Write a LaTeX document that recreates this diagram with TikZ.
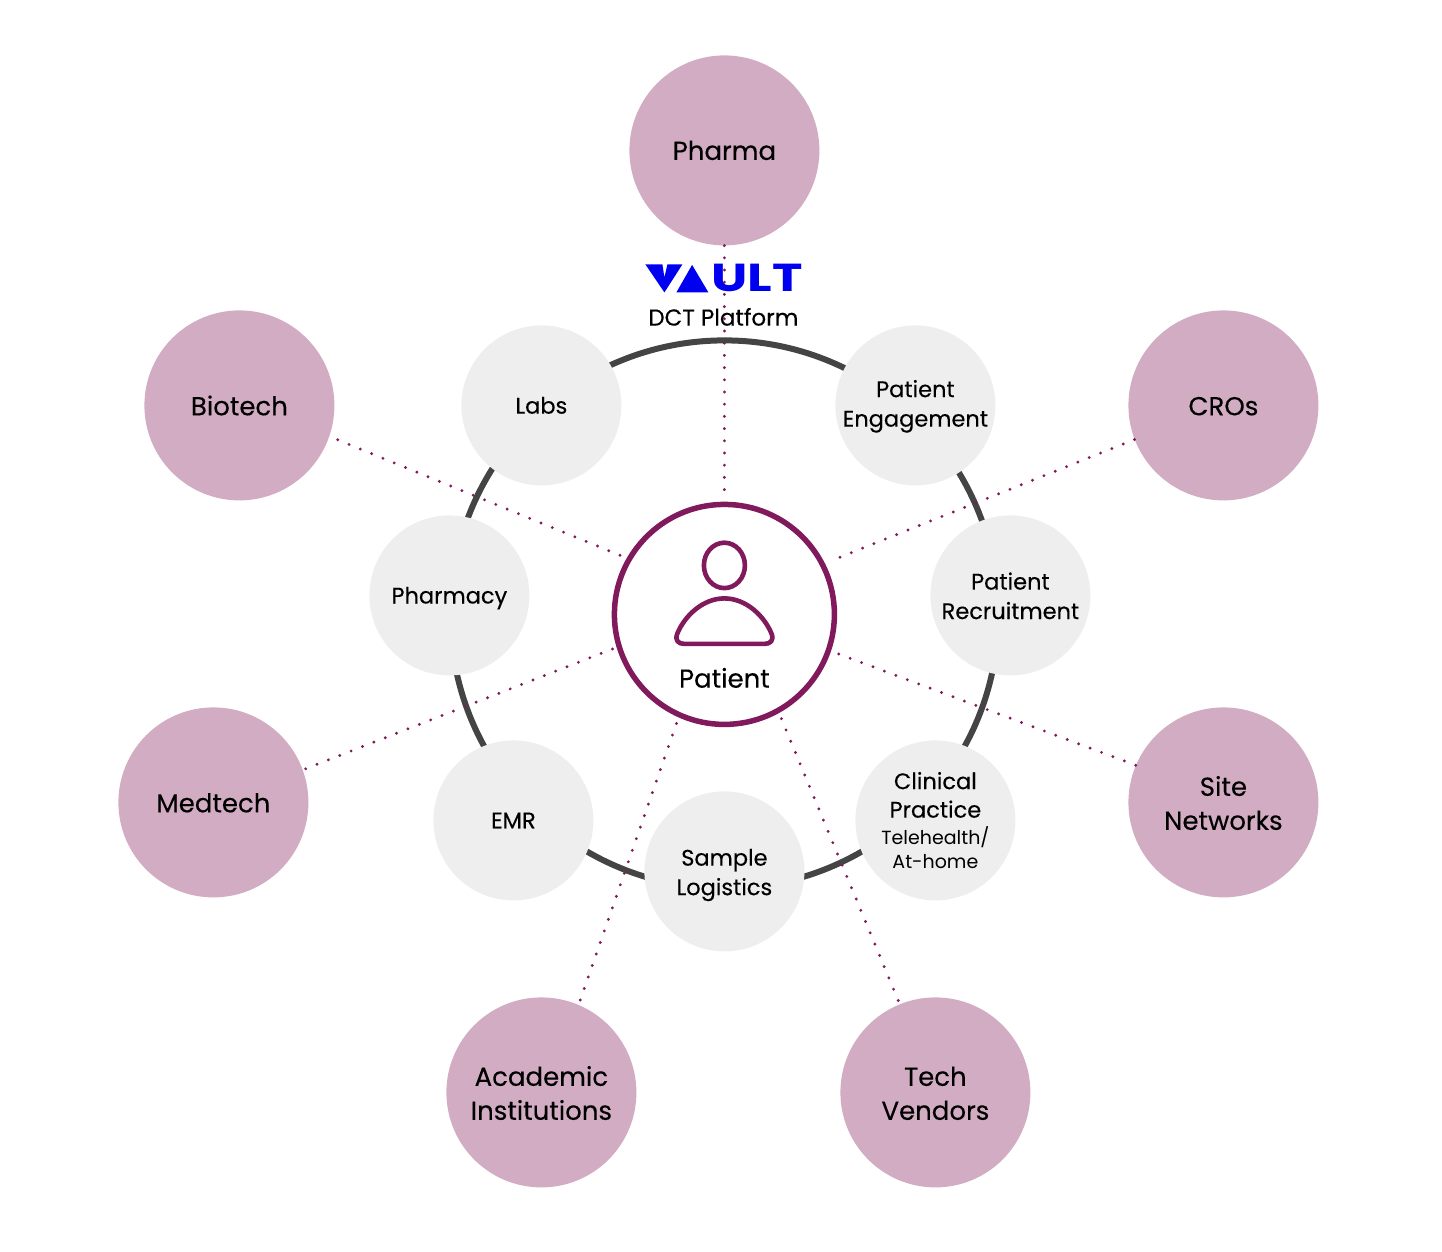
\documentclass[tikz,border=0pt]{standalone}
\usepackage{fontspec}
\usepackage{xcolor}
\setmainfont{Poppins}[FakeBold=0.25]
\newfontfamily\plainfont{Poppins}
\newcommand{\dn}[1]{\rule{0pt}{#1pt}}
\definecolor{plum}{HTML}{801A5C}
\definecolor{mauve}{HTML}{D1ACC2}
\definecolor{pale}{HTML}{EEEEEE}
\definecolor{ringgray}{HTML}{444444}
\definecolor{vaultblue}{HTML}{0000F0}
\begin{document}
\begin{tikzpicture}[x=1pt,y=-1pt,
    outer/.style={circle,fill=mauve,minimum size=190pt,inner sep=0pt,align=center,font=\fontsize{26}{34}\selectfont},
    inner/.style={circle,fill=pale,minimum size=160pt,inner sep=0pt,align=center,font=\fontsize{22.5}{29.5}\selectfont},
    dotline/.style={plum,line width=3.2pt,line cap=round,dash pattern=on 0pt off 12.2pt}]
  \useasboundingbox (-0.4,-0.4) rectangle (1441.6,1251.6);
  \node[circle,draw=ringgray,line width=6pt,minimum size=548pt,inner sep=0pt] (ring) at (724,614) {};
  % outer ring of partners
  \foreach \nm/\xx/\yy/\txt in {pharma/724/150/Pharma, biotech/239/405/\dn{20}Biotech, cros/1223/405/\dn{20}CROs,
      medtech/213/802/\dn{20}Medtech, sites/1223/802/{\dn{21}Site\\Networks}, academic/541/1092/{\dn{21}Academic\\Institutions},
      vendors/935/1092/{\dn{21}Tech\\Vendors}}
    \node[outer] (\nm) at (\xx,\yy) {\txt};
  % services on the platform
  \foreach \nm/\xx/\yy/\txt in {labs/541/405/Labs, engage/915/405/{\dn{19}Patient\\Engagement}, pharmacy/449/595/\dn{22}Pharmacy,
      recruit/1010/595/{\dn{18}Patient\\Recruitment}, emr/513/820/EMR, logistics/724/871/{\dn{24}Sample\\Logistics}}
    \node[inner] (\nm) at (\xx,\yy) {\txt};
  \node[inner] (clinical) at (935,820) {\dn{17}Clinical\\[-1pt]Practice\\[-3pt]{\plainfont\fontsize{19}{24}\selectfont Telehealth/}\\[-5pt]{\plainfont\fontsize{19}{24}\selectfont At-home}};
  \node[circle,draw=plum,fill=white,line width=5.5pt,minimum size=220pt,inner sep=0pt] (patient) at (724,614) {};
  \node[font=\fontsize{26}{30}\selectfont,inner sep=0pt] (patientlabel) at (724,677.5) {Patient};
  \draw[plum,line width=4.6pt] (724,565) ellipse (20.5 and 22.7);
  \draw[plum,line width=4.6pt,line join=round] (724,598) .. controls (702,598) and (684,616) .. (677,633)
    .. controls (674,640) and (678,643.5) .. (684,643.5) -- (764,643.5)
    .. controls (770,643.5) and (774,640) .. (771,633) .. controls (764,616) and (746,598) .. (724,598) -- cycle;
  % logo
  \fill[vaultblue] (645,264) -- (662,264) -- (664,277) -- (667,264) -- (682,264) -- (664,292) -- cycle;
  \fill[vaultblue] (676,292) -- (691.7,264.5) -- (708,292) -- cycle;
  \node[font=\fontsize{39}{39}\selectfont,inner sep=0pt,text=vaultblue,anchor=west] (vault) at (711,278)
    {\scalebox{1.32}[1]{\plainfont\bfseries ULT}};
  \node[font=\fontsize{23}{28}\selectfont,inner sep=0pt] (dct) at (723,316.5) {DCT Platform};
  % links to the patient
  \foreach \nm/\sa/\ea/\ss/\es in {pharma/-90/90/0/6, biotech/-19.6/150/9/1, cros/201.6/27.6/0/10,
      medtech/20.8/197.3/3/1, sites/157.2/-19.4/0/5, academic/67/246/5/3, vendors/112/-61.9/4/2}
    \draw[dotline,shorten <=\ss pt,shorten >=\es pt] (\nm.\sa) -- (patient.\ea);
\end{tikzpicture}
\end{document}
